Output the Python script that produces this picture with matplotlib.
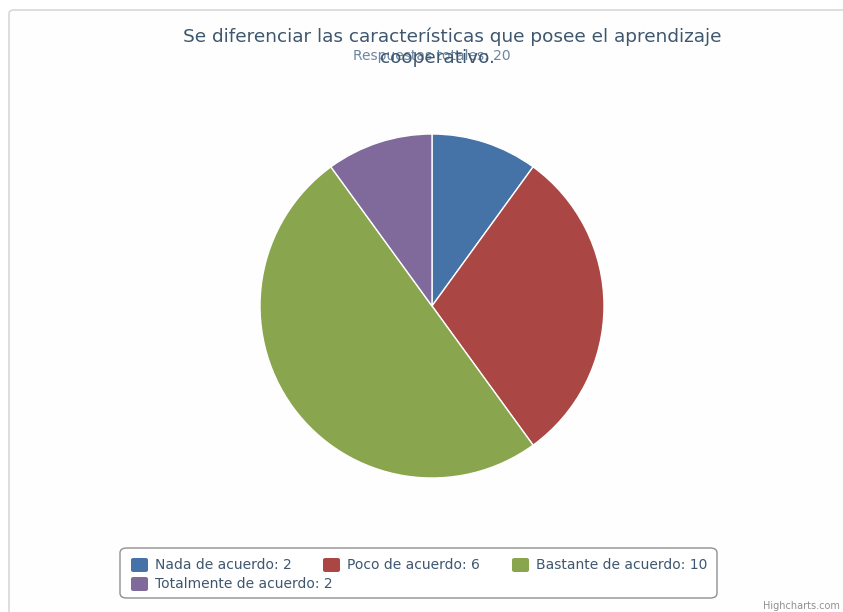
#!/usr/bin/env python3

import matplotlib
matplotlib.use("Agg")
import matplotlib.pyplot as plt
from matplotlib.patches import FancyBboxPatch

categories = ["Nada de acuerdo", "Poco de acuerdo", "Bastante de acuerdo", "Totalmente de acuerdo"]
values = [2, 6, 10, 2]
colors = ["#4572A7", "#AA4643", "#89A54E", "#80699B"]

title_lines = ["Se diferenciar las características que posee el aprendizaje",
               "cooperativo."]
subtitle = "Respuestas totales: %d" % sum(values)

W, H = 843, 612


def px(x, y):
    # pixel coords (origin top-left) -> figure fraction
    return x / W, 1 - y / H


def main():
    fig = plt.figure(figsize=(W / 100, H / 100), dpi=100)
    fig.patch.set_facecolor("white")

    # chart frame, kept behind everything; runs off the right and bottom
    frame = FancyBboxPatch(px(9, 630), (W + 20) / W, 620 / H,
                           boxstyle="round,pad=0,rounding_size=0.006",
                           transform=fig.transFigure, facecolor="#fefefe",
                           edgecolor="#d8d8d8", linewidth=1.2, zorder=-5)
    fig.patches.append(frame)

    # pie centre (432, 306), radius 172 px
    cx, cy, r = 432, 306, 172
    ax = fig.add_axes([(cx - r) / W, (H - cy - r) / H, 2 * r / W, 2 * r / H])
    ax.pie(values, colors=colors, startangle=90, counterclock=False,
           wedgeprops=dict(edgecolor="white", linewidth=1))
    ax.set_xlim(-1, 1)
    ax.set_ylim(-1, 1)
    ax.set_aspect("equal")
    ax.axis("off")

    # subtitle drawn first, wrapped title on top of it
    fig.text(*px(432, 56), subtitle, ha="center", va="center",
             fontsize=10, color="#6D869F")
    fig.text(*px(452, 37), title_lines[0], ha="center", va="center",
             fontsize=13.3, color="#3E576F")
    fig.text(*px(437, 58), title_lines[1], ha="center", va="center",
             fontsize=13.3, color="#3E576F")

    # legend box
    box = FancyBboxPatch(px(120, 598), (717 - 120) / W, 50 / H,
                         boxstyle="round,pad=0,rounding_size=0.008",
                         transform=fig.transFigure, facecolor="white",
                         edgecolor="#909090", linewidth=1.0)
    fig.patches.append(box)

    slots = [(131, 565), (323, 565), (512, 565), (131, 584)]
    for (x, y), name, val, col in zip(slots, categories, values, colors):
        sq = FancyBboxPatch(px(x, y + 7), 17 / W, 14 / H,
                            boxstyle="round,pad=0,rounding_size=0.003",
                            transform=fig.transFigure, facecolor=col,
                            edgecolor="none")
        fig.patches.append(sq)
        fig.text(*px(x + 24, y), "%s: %d" % (name, val), ha="left",
                 va="center", fontsize=10, color="#3E576F")

    fig.text(*px(840, 606), "Highcharts.com", ha="right", va="center",
             fontsize=7, color="#909090")

    fig.savefig("out.png", dpi=100)


if __name__ == "__main__":
    main()
